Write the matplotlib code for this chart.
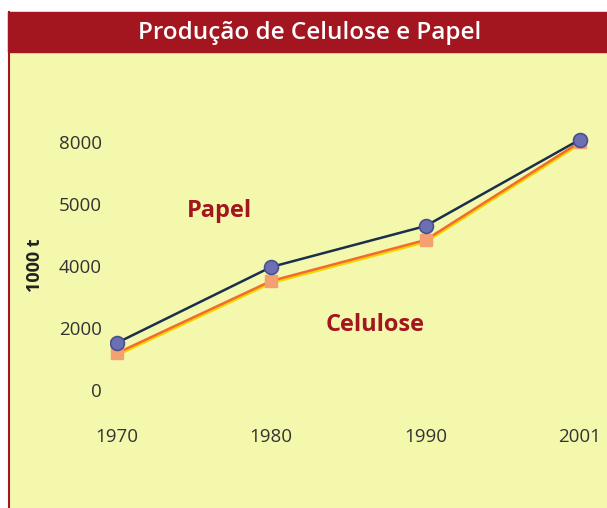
import matplotlib.pyplot as plt
import matplotlib.patheffects as pe
from matplotlib.patches import Rectangle
from matplotlib.lines import Line2D
from matplotlib.transforms import ScaledTranslation

# data
anos = ['1970', '1980', '1990', '2001']
papel = [1520, 3970, 5290, 8080]
celulose = [1190, 3520, 4840, 8000]
y_ticks = [0, 2000, 4000, 6000, 8000]
y_labels = ['0', '2000', '4000', '5000', '8000']

W, H = 607, 508
fig = plt.figure(figsize=(W / 100, H / 100), dpi=100, facecolor='white')

# yellow background and red title banner
fig.patches.append(Rectangle((9 / W, 0), 598 / W, (H - 52) / H,
                             transform=fig.transFigure, color='#F4F8AC', zorder=-2))
fig.patches.append(Rectangle((8 / W, (H - 52) / H), 599 / W, 40 / H,
                             transform=fig.transFigure, color='#A3161F', zorder=-1))
fig.lines.append(Line2D([8.5 / W, 8.5 / W], [0, (H - 12) / H],
                        transform=fig.transFigure, color='#A3161F', lw=1.5, zorder=-1))
fig.text(310 / W, (H - 33) / H, 'Produção de Celulose e Papel', color='white',
         family='Open Sans', weight='semibold', fontsize=17.5, ha='center', va='center')

ax = fig.add_axes([110 / W, (H - 415) / H, 490 / W, 295 / H])
ax.set_zorder(5)
ax.set_facecolor('none')
x = range(len(anos))

ax.plot(x, celulose, color='#F26A2E', lw=1.8, zorder=2,
        path_effects=[pe.SimpleLineShadow(offset=(0, -1.5), shadow_color='#F2D400', alpha=1),
                      pe.Normal()])
ax.plot(x, celulose, 's', ms=9, color='#F5A070', mec='#F5A070', zorder=3)
ax.plot(x, papel, color='#1B2F4C', lw=1.8, zorder=4)
ax.plot(x, papel, 'o', ms=10, color='#6B70B4', mec='#4A4F90', mew=1.2, zorder=5)

ax.text(0.667, 5774, 'Papel', color='#A3161F', family='Open Sans', weight='bold',
        fontsize=17, ha='center', va='center')
ax.text(1.672, 2097, 'Celulose', color='#A3161F', family='Open Sans', weight='bold',
        fontsize=17, ha='center', va='center')

ax.set_xlim(-0.045, 3.13)
ax.set_ylim(-806, 8710)
ax.set_xticks(list(x))
ax.set_xticklabels(anos)
ax.set_yticks(y_ticks)
ax.set_yticklabels(y_labels)
for lab in ax.get_xticklabels() + ax.get_yticklabels():
    lab.set_family('Open Sans')
    lab.set_fontsize(13.5)
    lab.set_color('#333333')
shift = ScaledTranslation(-4 / 100, 0, fig.dpi_scale_trans)
for lab in ax.get_xticklabels():
    lab.set_transform(lab.get_transform() + shift)
ax.tick_params(length=0)
ax.tick_params(axis='y', pad=6)
ax.tick_params(axis='x', pad=9)
for s in ax.spines.values():
    s.set_visible(False)

ax.set_ylabel('1000 t', family='Open Sans', weight='bold', fontsize=13, color='#222222')
ax.yaxis.set_label_coords(-0.135, 0.508)

fig.savefig('out.png', dpi=100, facecolor='white')
